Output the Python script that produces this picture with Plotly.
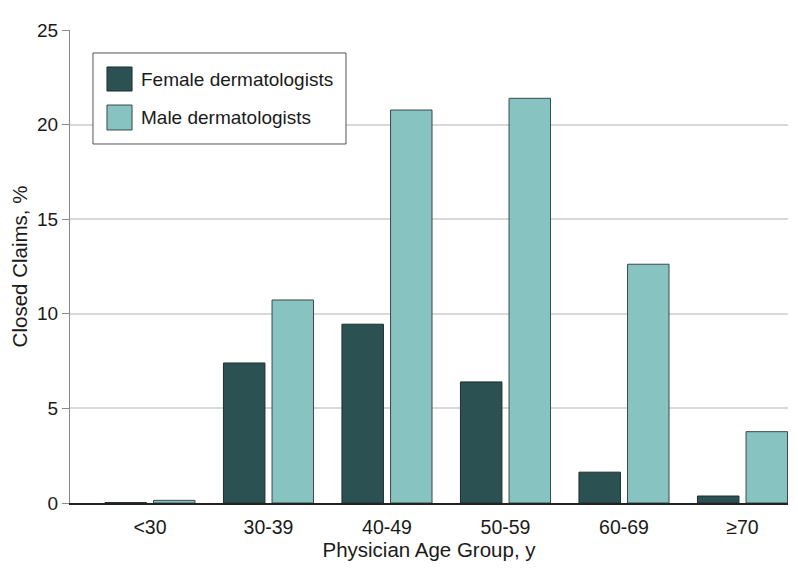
import plotly.graph_objects as go

categories = ["<30", "30-39", "40-49", "50-59", "60-69", "≥70"]
female = [0.02, 7.4, 9.45, 6.4, 1.63, 0.37]
male = [0.14, 10.73, 20.77, 21.39, 12.62, 3.77]
series_names = ["Female dermatologists", "Male dermatologists"]
y_ticks = [0, 5, 10, 15, 20, 25]

FEMALE_COLOR = "#2b5152"
MALE_COLOR = "#86c3c1"
FONT = "Liberation Sans"

fig = go.Figure()
fig.add_trace(go.Bar(x=categories, y=female, name=series_names[0],
                     marker=dict(color=FEMALE_COLOR, line=dict(color="#1e2e2e", width=1)),
                     showlegend=False))
fig.add_trace(go.Bar(x=categories, y=male, name=series_names[1],
                     marker=dict(color=MALE_COLOR, line=dict(color="#3a4a4a", width=1)),
                     showlegend=False))

# manual legend (larger swatches like the reference)
shapes = [
    dict(type="rect", xref="paper", yref="paper", x0=0.032, x1=0.3844, y0=0.759, y1=0.9514,
         line=dict(color="#555555", width=1), fillcolor="white", layer="above"),
    dict(type="rect", xref="paper", yref="paper", x0=0.0515, x1=0.0864, y0=0.871, y1=0.9218,
         line=dict(color="#1e2e2e", width=1), fillcolor=FEMALE_COLOR, layer="above"),
    dict(type="rect", xref="paper", yref="paper", x0=0.0515, x1=0.0864, y0=0.7886, y1=0.8414,
         line=dict(color="#3a4a4a", width=1), fillcolor=MALE_COLOR, layer="above"),
]
annotations = [
    dict(text=series_names[0], xref="paper", yref="paper", x=0.0961, y=0.8964,
         xanchor="left", yanchor="middle", showarrow=False,
         font=dict(family=FONT, size=19, color="#1a1a1a")),
    dict(text=series_names[1], xref="paper", yref="paper", x=0.0961, y=0.816,
         xanchor="left", yanchor="middle", showarrow=False,
         font=dict(family=FONT, size=19, color="#1a1a1a")),
]

# the page body has an 8px margin, so the figure is made 8px smaller
fig.update_layout(
    width=790, height=580,
    margin=dict(l=62, r=10, t=22, b=85, autoexpand=False),
    paper_bgcolor="white", plot_bgcolor="white",
    barmode="group", bargap=0.18, bargroupgap=0.146,
    font=dict(family=FONT, size=19, color="#1a1a1a"),
    shapes=shapes, annotations=annotations,
    xaxis=dict(type="category", range=[-0.675, 5.384], showline=True, linecolor="#222222",
               linewidth=1.5, ticks="", ticklabelstandoff=6, showgrid=False, automargin=False,
               tickfont=dict(size=19.5),
               title=dict(text="Physician Age Group, y", standoff=5,
                          font=dict(size=20.5))),
    yaxis=dict(range=[0, 25], tickvals=y_ticks, showline=True, linecolor="#888888", linewidth=1.2,
               ticks="outside", ticklen=7, tickcolor="#888888", tickwidth=1.2, automargin=True,
               showgrid=True, gridcolor="#d9d9d9", gridwidth=1.5, zeroline=False,
               title=dict(text="Closed Claims, %", standoff=10, font=dict(size=20.5))),
)

fig.write_html("out.html")
